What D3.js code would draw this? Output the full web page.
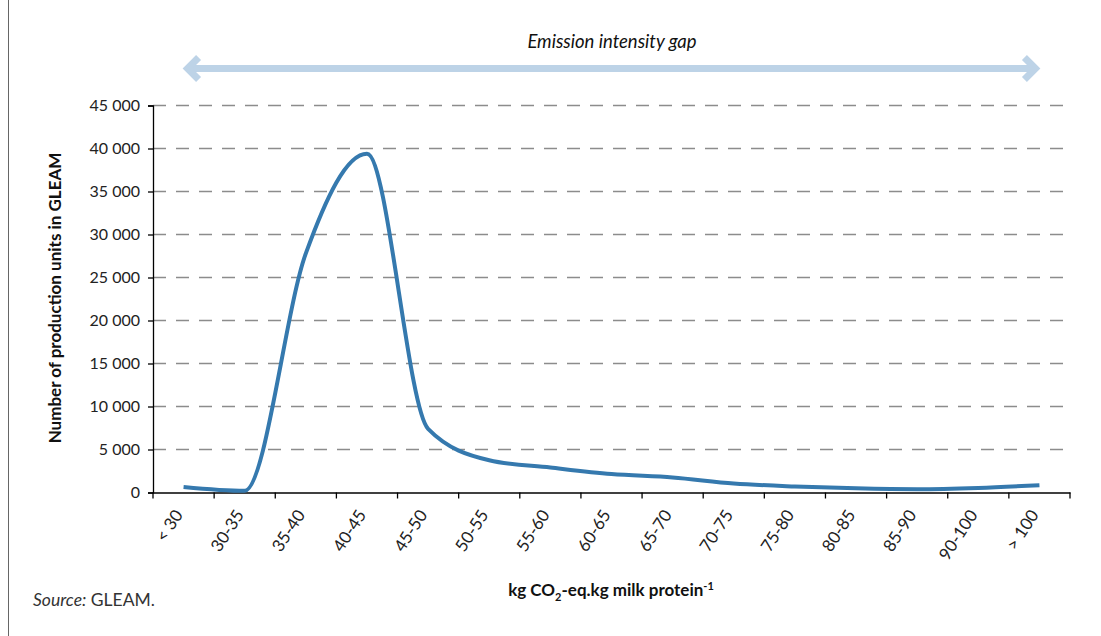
<!DOCTYPE html>
<html><head><meta charset="utf-8">
<script src="https://cdn.jsdelivr.net/npm/d3@7/dist/d3.min.js"></script>
<style>body{margin:0;background:#fff;} svg{display:block;font-family:Lato,"Open Sans",sans-serif;}</style>
</head><body>
<svg id="c" width="1101" height="636"></svg>
<script>
const categories = ["< 30","30-35","35-40","40-45","45-50","50-55","55-60","60-65","65-70","70-75","75-80","80-85","85-90","90-100","> 100"];
const units = [650, 200, 27800, 39400, 7400, 3750, 2900, 2150, 1750, 1050, 700, 480, 380, 530, 850];
const yTicks = [0,5000,10000,15000,20000,25000,30000,35000,40000,45000];

const svg = d3.select("#c");
const L = 153, R = 1070, T = 105.5, B = 492.5;
const x = d3.scaleBand().domain(categories).range([L, R]).padding(0);
const y = d3.scaleLinear().domain([0, 45000]).range([B, T]);
const loc = d3.formatLocale({decimal:".", thousands:" ", grouping:[3], currency:["",""]});
const fmt = loc.format(",d");
const cx = d => x(d) + x.bandwidth()/2;

// left frame line
svg.append("line").attr("x1",8.5).attr("x2",8.5).attr("y1",0).attr("y2",636).attr("stroke","#666").attr("stroke-width",1);

// gridlines
svg.append("g").selectAll("line").data(yTicks.filter(d=>d>0)).join("line")
  .attr("x1",L).attr("x2",R).attr("y1",d=>y(d)).attr("y2",d=>y(d))
  .attr("stroke","#8c8c8c").attr("stroke-width",1.3).attr("stroke-dasharray","13,10");

// y axis
const ya = svg.append("g").attr("transform",`translate(${L},0)`)
  .call(d3.axisLeft(y).tickValues(yTicks).tickFormat(fmt).tickSize(5).tickPadding(8));
ya.select(".domain").attr("stroke","#000").attr("stroke-width",1.3);
ya.selectAll(".tick line").attr("stroke","#000").attr("stroke-width",1.3);
ya.selectAll(".tick text").attr("font-size",16).attr("fill","#222").attr("font-family","Lato,sans-serif");

// x axis
const xa = svg.append("g").attr("transform",`translate(0,${B})`)
  .call(d3.axisBottom(x).tickSize(0).tickFormat(""));
xa.select(".domain").attr("stroke","#000").attr("stroke-width",1.3);
const edges = d3.range(categories.length+1).map(i => L + i*x.step());
xa.append("g").selectAll("line").data(edges).join("line")
  .attr("x1",d=>d).attr("x2",d=>d).attr("y1",0).attr("y2",6).attr("stroke","#000").attr("stroke-width",1.3);
svg.append("g").selectAll("text").data(categories).join("text")
  .attr("transform",d=>`translate(${cx(d)-5},${B+19}) rotate(-57)`)
  .attr("text-anchor","end").attr("dy","0.35em")
  .attr("font-size",17).attr("fill","#222").text(d=>d);

// line
const line = d3.line().x((d,i)=>cx(categories[i])).y(d=>y(d)).curve(d3.curveMonotoneX);
svg.append("path").datum(units).attr("d",line).attr("fill","none")
  .attr("stroke","#3579ae").attr("stroke-width",4).attr("stroke-linejoin","round");

// axis titles
svg.append("text").attr("transform","translate(61,298) rotate(-90)").attr("text-anchor","middle")
  .attr("font-size",17).attr("font-weight","bold").attr("fill","#111").text("Number of production units in GLEAM");
const xt = svg.append("text").attr("x",611).attr("y",596).attr("text-anchor","middle")
  .attr("font-size",17).attr("font-weight","bold").attr("fill","#111");
xt.append("tspan").text("kg CO");
xt.append("tspan").attr("font-size",11).attr("dy",5).text("2");
xt.append("tspan").attr("dy",-5).text("-eq.kg milk protein");
xt.append("tspan").attr("font-size",11).attr("dy",-6).text("-1");

// source
const src = svg.append("text").attr("x",33).attr("y",606).attr("font-size",17.5).attr("fill","#333");
src.append("tspan").attr("font-style","italic").text("Source:");
src.append("tspan").text(" GLEAM.");

// emission intensity gap arrow
svg.append("text").attr("x",612).attr("y",48).attr("text-anchor","middle").attr("font-size",18.5)
  .attr("font-style","italic").attr("fill","#111").text("Emission intensity gap");
const ax1 = cx(categories[0]) + 1, ax2 = cx(categories[categories.length-1]) - 1, ay = 68.5;
const arrow = d3.path();
arrow.moveTo(ax1+4, ay); arrow.lineTo(ax2-4, ay);
svg.append("path").attr("d",arrow.toString()).attr("stroke","#bdd3e7").attr("stroke-width",7).attr("fill","none");
const heads = d3.path();
heads.moveTo(ax1+14, ay-11); heads.lineTo(ax1+3, ay); heads.lineTo(ax1+14, ay+11);
heads.moveTo(ax2-14, ay-11); heads.lineTo(ax2-3, ay); heads.lineTo(ax2-14, ay+11);
svg.append("path").attr("d",heads.toString()).attr("stroke","#bdd3e7").attr("stroke-width",7).attr("fill","none").attr("stroke-linejoin","miter");
</script>
</body></html>
